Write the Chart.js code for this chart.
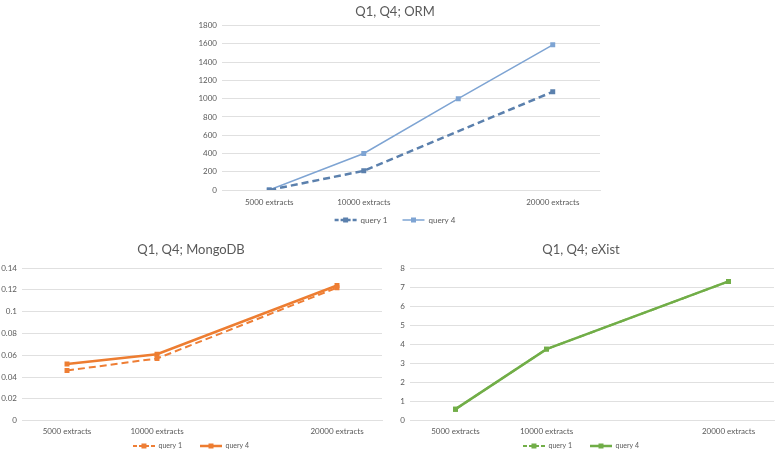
<!DOCTYPE html>
<html>
<head>
<meta charset="utf-8">
<script src="https://cdn.jsdelivr.net/npm/chart.js@4.4.1/dist/chart.umd.min.js"></script>
<style>
  html, body { margin: 0; padding: 0; background: #fff; }
  #wrap { position: relative; width: 778px; height: 457px; overflow: hidden; }
  canvas { position: absolute; }
</style>
</head>
<body>
<div id="wrap">
  <canvas id="orm" width="420" height="247" style="left:190px;top:0px"></canvas>
  <canvas id="mongo" width="392" height="242" style="left:0px;top:235px"></canvas>
  <canvas id="exist" width="390" height="242" style="left:388px;top:235px"></canvas>
</div>
<script>
// x categories (third one has no label in the original)
const categories = ["5000 extracts", "10000 extracts", "", "20000 extracts"];
const seriesNames = ["query 1", "query 4"];

const ormQuery1 = [0, 210, null, 1075];
const ormQuery4 = [0, 400, 1000, 1590];
const mongoQuery1 = [0.046, 0.057, null, 0.122];
const mongoQuery4 = [0.052, 0.061, null, 0.124];
const existQuery1 = [0.6, 3.75, null, 7.3];
const existQuery4 = [0.6, 3.75, null, 7.3];

const ormTicks = [0, 200, 400, 600, 800, 1000, 1200, 1400, 1600, 1800];
const mongoTicks = [0, 0.02, 0.04, 0.06, 0.08, 0.1, 0.12, 0.14];
const existTicks = [0, 1, 2, 3, 4, 5, 6, 7, 8];

const FONT = "Lato, 'Liberation Sans', sans-serif";
const TEXT = "#595959";
const GRID = "#e0e0e0";

// pull the legend up closer to the axis labels (Excel-like spacing)
const legendShift = {
  id: "legendShift",
  afterLayout(chart, args, opts) {
    const lg = chart.legend;
    if (!lg || !opts.dy) return;
    lg.top += opts.dy;
    lg.bottom += opts.dy;
  },
};

// little square marker in the middle of each legend line
const legendMarkers = {
  id: "legendMarkers",
  afterDraw(chart) {
    const legend = chart.legend;
    if (!legend || !legend.legendHitBoxes) return;
    const ctx = chart.ctx;
    const w = legend.options.labels.pointStyleWidth;
    legend.legendItems.forEach((item, i) => {
      const hb = legend.legendHitBoxes[i];
      const cx = hb.left + w / 2;
      const cy = hb.top + hb.height / 2;
      ctx.save();
      ctx.fillStyle = item.strokeStyle;
      ctx.fillRect(cx - 2.5, cy - 2.5, 5, 5);
      ctx.restore();
    });
  },
};

function makeChart(id, title, q1, q4, ticks, colors, lay) {
  const step = ticks[1] - ticks[0];
  return new Chart(document.getElementById(id), {
    type: "line",
    data: {
      labels: categories,
      datasets: [
        {
          label: seriesNames[0],
          data: q1,
          borderColor: colors[0],
          backgroundColor: colors[0],
          borderWidth: lay.w1,
          borderDash: [7, 4],
          pointStyle: "rect",
          pointRadius: 3.5,
          pointBorderWidth: 0,
          spanGaps: true,
        },
        {
          label: seriesNames[1],
          data: q4,
          borderColor: colors[1],
          backgroundColor: colors[1],
          borderWidth: lay.w4,
          pointStyle: "rect",
          pointRadius: 3.5,
          pointBorderWidth: 0,
          spanGaps: true,
        },
      ],
    },
    options: {
      responsive: false,
      animation: false,
      layout: { padding: { left: 0, right: lay.right, top: 0, bottom: 0 } },
      plugins: {
        title: {
          display: true,
          text: title,
          color: TEXT,
          font: { family: FONT, size: 13, weight: "normal" },
          padding: { top: lay.titleTop, bottom: lay.titleBottom },
        },
        legend: {
          position: "bottom",
          labels: {
            usePointStyle: true,
            pointStyleWidth: 22,
            boxHeight: 8,
            padding: lay.legendPad,
            color: TEXT,
            font: { family: FONT, size: lay.legendFont },
            generateLabels: (chart) =>
              chart.data.datasets.map((ds, i) => ({
                text: ds.label,
                fillStyle: ds.borderColor,
                strokeStyle: ds.borderColor,
                lineWidth: ds.borderWidth,
                lineDash: ds.borderDash ? [4, 2] : [],
                pointStyle: "line",
                fontColor: TEXT,
                hidden: false,
                datasetIndex: i,
              })),
          },
        },
        legendShift: { dy: lay.legendShift },
        tooltip: { enabled: false },
      },
      scales: {
        x: {
          offset: true,
          grid: { display: false, drawTicks: false },
          border: { color: GRID },
          ticks: {
            autoSkip: false,
            maxRotation: 0,
            padding: lay.xPad,
            color: TEXT,
            font: { family: FONT, size: 8 },
          },
        },
        y: {
          min: ticks[0],
          max: ticks[ticks.length - 1],
          border: { display: false },
          grid: { color: GRID, drawTicks: false },
          ticks: {
            stepSize: step,
            padding: 5,
            color: TEXT,
            font: { family: FONT, size: 8 },
            callback: (v) => String(+v.toFixed(2)),
          },
          afterFit(scale) {
            scale.width = lay.yWidth;
          },
        },
      },
    },
    plugins: [legendShift, legendMarkers],
  });
}

makeChart("orm", "Q1, Q4; ORM", ormQuery1, ormQuery4, ormTicks, ["#5b80ad", "#7ea4d3"], {
  w1: 2.5, w4: 1.5, right: 10, yWidth: 32, titleTop: 4, titleBottom: 6,
  legendPad: 15, legendFont: 8, xPad: 7.2, legendShift: -13,
});
makeChart("mongo", "Q1, Q4; MongoDB", mongoQuery1, mongoQuery4, mongoTicks, ["#ee7e35", "#ed7d31"], {
  w1: 2, w4: 2.5, right: 10, yWidth: 22, titleTop: 7, titleBottom: 10.5,
  legendPad: 18, legendFont: 7, xPad: 5.9, legendShift: -17.5,
});
makeChart("exist", "Q1, Q4; eXist", existQuery1, existQuery4, existTicks, ["#72ae48", "#70ad47"], {
  w1: 2, w4: 2.5, right: 4, yWidth: 22, titleTop: 7, titleBottom: 10.5,
  legendPad: 18, legendFont: 7, xPad: 5.9, legendShift: -17.5,
});
</script>
</body>
</html>
